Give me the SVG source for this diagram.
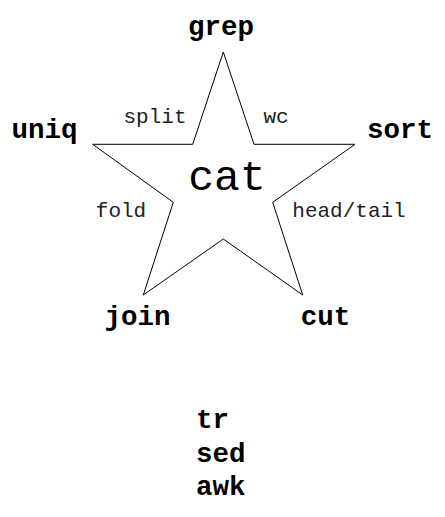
<svg xmlns="http://www.w3.org/2000/svg" width="445" height="517" viewBox="0 0 445 517">
<style>
.b{font-family:"Liberation Mono","Courier New",monospace;font-weight:bold;font-size:27.5px;fill:#000}
.s{font-family:"Liberation Mono","Courier New",monospace;font-size:21px;fill:#222}
.c{font-family:"Liberation Mono","Courier New",monospace;font-size:43px;fill:#000}
</style>
<rect width="445" height="517" fill="#fff"/>
<g id="star">
<polygon points="223.3,52 254,144.3 355,144.3 272.7,202.3 302.7,295 223.3,239 143.3,295 173.3,202.3 92.7,144.3 192.7,144.3" fill="#fff" stroke="#000" stroke-width="1"/>
<text class="c" x="227" y="190" text-anchor="middle">cat</text>
</g>
<g id="grep"><text class="b" x="221" y="35" text-anchor="middle">grep</text></g>
<g id="uniq"><text class="b" x="44.5" y="138" text-anchor="middle">uniq</text></g>
<g id="sort"><text class="b" x="400" y="138" text-anchor="middle">sort</text></g>
<g id="join"><text class="b" x="137.5" y="325" text-anchor="middle">join</text></g>
<g id="cut"><text class="b" x="325.5" y="325" text-anchor="middle">cut</text></g>
<g id="tools">
<text class="b" x="196" y="428">tr</text>
<text class="b" x="196" y="462">sed</text>
<text class="b" x="196" y="495">awk</text>
</g>
<g id="labels">
<text class="s" x="155" y="123" text-anchor="middle">split</text>
<text class="s" x="276" y="123" text-anchor="middle">wc</text>
<text class="s" x="121" y="217" text-anchor="middle">fold</text>
<text class="s" x="349" y="217" text-anchor="middle">head/tail</text>
</g>
</svg>
